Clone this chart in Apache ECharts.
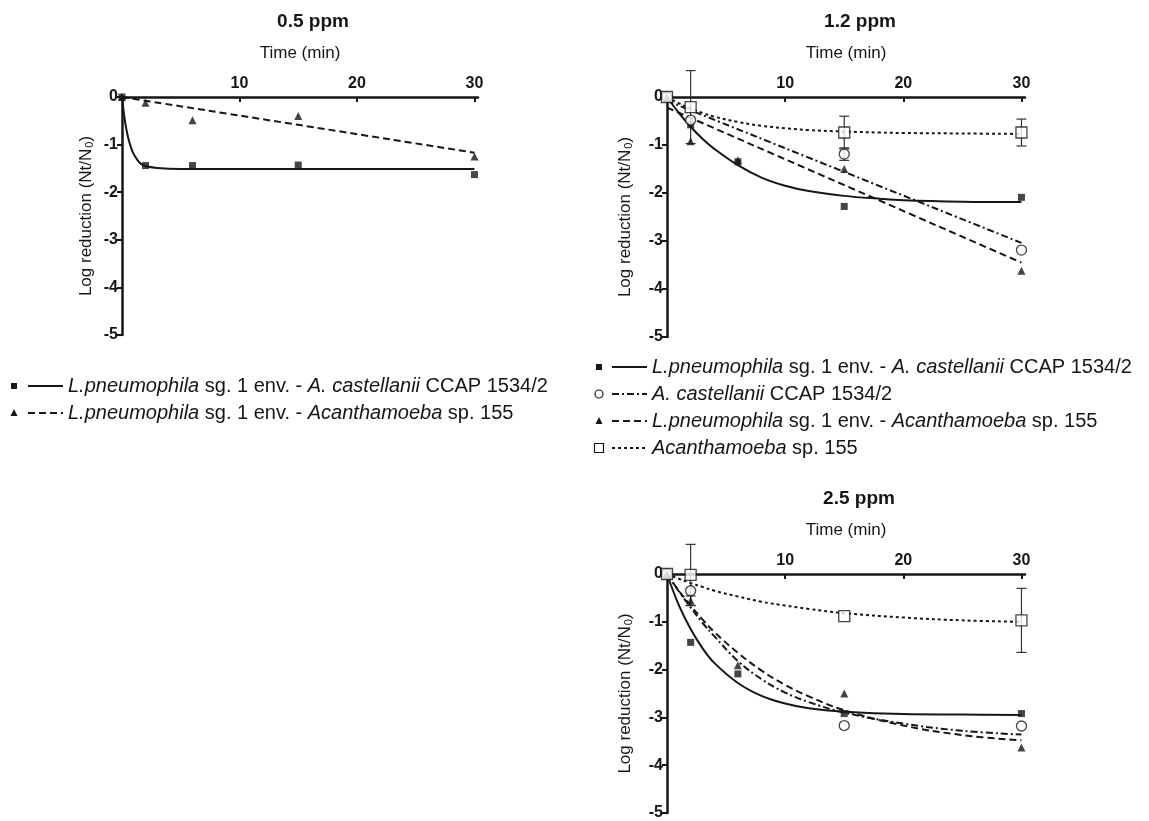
<!DOCTYPE html>
<html lang="en">

<head>
    <meta charset="UTF-8">
    <title>Log reduction - ppm</title>
    <style>
        html, body { margin: 0; padding: 0; background: #fff; }
        #main { width: 1149px; height: 821px; }
    </style>
</head>

<body>
    <div id="main"></div>
</body>

</html>
<script src="https://cdn.jsdelivr.net/npm/echarts@6/dist/echarts.min.js"></script>
<script>
    // sampling times (min)
    var times = [0, 2, 6, 15, 30];

    // 0.5 ppm
    var p1LpAc = [0, -1.44, -1.44, -1.43, -1.63];
    var p1LpAs = [0, -0.12, -0.49, -0.40, -1.25];
    var p1FitT = [0, 0.25, 0.5, 0.75, 1, 1.5, 2, 3, 5, 10, 20, 30];
    var p1FitLpAc = [0, -0.5, -0.83, -1.05, -1.2, -1.38, -1.45, -1.49, -1.51, -1.51, -1.51, -1.51];
    var p1LineT = [0, 30];
    var p1FitLpAs = [0, -1.17];

    // 1.2 ppm
    var p2LpAc = [0, -0.58, -1.35, -2.28, -2.09];
    var p2Ac = [0, -0.48, null, -1.19, -3.19];
    var p2LpAs = [0, -0.92, -1.32, -1.50, -3.62];
    var p2As = [0, -0.21, null, -0.74, -0.74];
    var p2AcErr = [null, null, null, 0.13, null];
    var p2AsErr = [null, 0.76, null, 0.34, 0.28];
    var p2FitT = [0, 1, 2, 3, 4, 6, 8, 10, 12, 15, 18, 20, 25, 30];
    var p2FitLpAc = [0, -0.33, -0.62, -0.87, -1.08, -1.42, -1.68, -1.85, -1.96, -2.06, -2.12, -2.15, -2.18, -2.19];
    var p2FitAs = [0, -0.13, -0.24, -0.33, -0.41, -0.52, -0.60, -0.65, -0.69, -0.72, -0.74, -0.75, -0.76, -0.77];
    var p2LineT = [0, 30];
    var p2FitAc = [-0.08, -3.04];
    var p2FitLpAs = [-0.22, -3.45];

    // 2.5 ppm
    var p3LpAc = [0, -1.43, -2.09, -2.92, -2.92];
    var p3Ac = [0, -0.35, null, -3.17, -3.18];
    var p3LpAs = [0, -0.56, -1.91, -2.50, -3.63];
    var p3As = [0, -0.02, null, -0.88, -0.97];
    var p3LpAsErr = [null, 0.1, null, null, null];
    var p3AsErr = [null, 0.64, null, null, 0.67];
    var p3FitT = [0, 1, 2, 3, 4, 6, 8, 10, 12, 15, 20, 25, 30];
    var p3FitLpAc = [0, -0.65, -1.15, -1.55, -1.86, -2.28, -2.55, -2.71, -2.81, -2.88, -2.93, -2.94, -2.95];
    var p3FitLpAs = [0, -0.35, -0.66, -0.95, -1.21, -1.65, -2.02, -2.32, -2.56, -2.85, -3.17, -3.37, -3.48];
    var p3FitAc = [0, -0.36, -0.70, -1.02, -1.30, -1.82, -2.20, -2.48, -2.68, -2.90, -3.13, -3.28, -3.36];
    var p3FitAs = [0, -0.10, -0.19, -0.27, -0.35, -0.47, -0.58, -0.66, -0.73, -0.82, -0.91, -0.97, -1.00];

    var titles = ['0.5 ppm', '1.2 ppm', '2.5 ppm'];
    var xTicks = [10, 20, 30];
    var legendLeft = [
        ['sq', 'solid', '{i|L.pneumophila} sg. 1 env. - {i|A. castellanii} CCAP 1534/2'],
        ['tri', 'dash', '{i|L.pneumophila} sg. 1 env. - {i|Acanthamoeba} sp. 155']
    ];
    var legendRight = [
        ['sq', 'solid', '{i|L.pneumophila} sg. 1 env. - {i|A. castellanii} CCAP 1534/2'],
        ['circ', 'dashdot', '{i|A. castellanii} CCAP 1534/2'],
        ['tri', 'dash', '{i|L.pneumophila} sg. 1 env. - {i|Acanthamoeba} sp. 155'],
        ['osq', 'dot', '{i|Acanthamoeba} sp. 155']
    ];

    var FONT = 'Liberation Sans, Arial, sans-serif';
    var INK = '#161616';
    var dashes = { solid: null, dash: [7, 4], dashdot: [7, 3, 2, 3], dot: [3, 3] };

    var mainChart = echarts.init(document.getElementById('main'));

    function pairs(xs, ys) {
        var out = [];
        for (var i = 0; i < xs.length; i++) {
            if (ys[i] !== null) out.push([xs[i], ys[i]]);
        }
        return out;
    }
    function errPairs(ys, es) {
        var out = [];
        for (var i = 0; i < times.length; i++) {
            if (es[i] !== null && ys[i] !== null) out.push([times[i], ys[i], es[i]]);
        }
        return out;
    }

    var grids = [
        { left: 122, top: 97, width: 356, height: 238 },
        { left: 667, top: 97, width: 358, height: 240 },
        { left: 667, top: 574, width: 358, height: 239 }
    ];
    var yNameGap = [27, 33, 33];

    var xAxes = [], yAxes = [];
    grids.forEach(function (g, i) {
        xAxes.push({
            gridIndex: i, type: 'value', position: 'top', min: 0, max: 30.3, interval: 10,
            name: 'Time (min)', nameLocation: 'middle', nameGap: 35,
            nameTextStyle: { fontSize: 17, color: INK, fontFamily: FONT },
            axisLine: { lineStyle: { color: INK, width: 2.5 } },
            axisTick: { inside: true, length: 5, customValues: xTicks, lineStyle: { color: INK, width: 2 } },
            axisLabel: { customValues: xTicks, fontWeight: 'bold', fontSize: 16, color: INK, margin: 5, fontFamily: FONT },
            splitLine: { show: false }
        });
        yAxes.push({
            gridIndex: i, type: 'value', min: -5, max: 0, interval: 1,
            name: 'Log reduction (Nt/N{sub|0})', nameLocation: 'middle', nameGap: yNameGap[i],
            nameTextStyle: {
                fontSize: 17, color: INK, fontFamily: FONT,
                rich: { sub: { fontSize: 11, padding: [7, 0, 0, 1], color: INK, fontFamily: FONT } }
            },
            axisLine: { lineStyle: { color: INK, width: 2.5 } },
            axisTick: { length: 5, lineStyle: { color: INK, width: 2 } },
            axisLabel: { fontWeight: 'bold', fontSize: 16, color: INK, margin: 4, fontFamily: FONT },
            splitLine: { show: false }
        });
    });

    // fitted curves
    function fit(idx, xs, ys, dash) {
        return {
            type: 'line', xAxisIndex: idx, yAxisIndex: idx, data: pairs(xs, ys),
            showSymbol: false, smooth: 0.4, silent: true, z: 2,
            lineStyle: { color: INK, width: 2, type: dash || 'solid' }
        };
    }
    // measured points
    var symbols = {
        sq: { symbol: 'rect', symbolSize: 7, itemStyle: { color: INK } },
        tri: { symbol: 'triangle', symbolSize: 8, itemStyle: { color: INK } },
        circ: { symbol: 'circle', symbolSize: 10, itemStyle: { color: '#fff', borderColor: INK, borderWidth: 1.3 } },
        osq: { symbol: 'rect', symbolSize: 11, itemStyle: { color: '#fff', borderColor: INK, borderWidth: 1.3 } }
    };
    function pts(idx, ys, kind) {
        var s = symbols[kind];
        return {
            type: 'scatter', xAxisIndex: idx, yAxisIndex: idx, data: pairs(times, ys),
            symbol: s.symbol, symbolSize: s.symbolSize, itemStyle: s.itemStyle, z: 4, clip: false
        };
    }
    // SD error bars
    function errBars(idx, ys, es) {
        return {
            type: 'custom', xAxisIndex: idx, yAxisIndex: idx, data: errPairs(ys, es), z: 3, clip: false,
            renderItem: function (params, api) {
                var x = api.value(0), y = api.value(1), e = api.value(2);
                var hi = api.coord([x, y + e]), lo = api.coord([x, y - e]);
                var w = 5, st = { stroke: '#333', lineWidth: 1.2 };
                return {
                    type: 'group', children: [
                        { type: 'line', shape: { x1: hi[0], y1: hi[1], x2: lo[0], y2: lo[1] }, style: st },
                        { type: 'line', shape: { x1: hi[0] - w, y1: hi[1], x2: hi[0] + w, y2: hi[1] }, style: st },
                        { type: 'line', shape: { x1: lo[0] - w, y1: lo[1], x2: lo[0] + w, y2: lo[1] }, style: st }
                    ]
                };
            }
        };
    }

    var series = [
        fit(0, p1FitT, p1FitLpAc), fit(0, p1LineT, p1FitLpAs, dashes.dash),
        pts(0, p1LpAc, 'sq'), pts(0, p1LpAs, 'tri'),

        fit(1, p2FitT, p2FitLpAc), fit(1, p2LineT, p2FitAc, dashes.dashdot),
        fit(1, p2LineT, p2FitLpAs, dashes.dash), fit(1, p2FitT, p2FitAs, dashes.dot),
        errBars(1, p2Ac, p2AcErr), errBars(1, p2As, p2AsErr),
        pts(1, p2LpAc, 'sq'), pts(1, p2Ac, 'circ'), pts(1, p2LpAs, 'tri'), pts(1, p2As, 'osq'),

        fit(2, p3FitT, p3FitLpAc), fit(2, p3FitT, p3FitAc, dashes.dashdot),
        fit(2, p3FitT, p3FitLpAs, dashes.dash), fit(2, p3FitT, p3FitAs, dashes.dot),
        errBars(2, p3LpAs, p3LpAsErr), errBars(2, p3As, p3AsErr),
        pts(2, p3LpAc, 'sq'), pts(2, p3Ac, 'circ'), pts(2, p3LpAs, 'tri'), pts(2, p3As, 'osq')
    ];

    // titles + custom legends (marker, line sample, text)
    var graphic = [];
    var titlePos = [[313, 22], [860, 22], [859, 499]];
    titles.forEach(function (t, i) {
        graphic.push({
            type: 'text', x: titlePos[i][0], y: titlePos[i][1],
            style: { text: t, fontSize: 19, fontWeight: 'bold', fill: INK, fontFamily: FONT, align: 'center', verticalAlign: 'middle' }
        });
    });
    function legendRows(rows, sx, x1, x2, tx, y0, dy) {
        rows.forEach(function (r, k) {
            var y = y0 + k * dy, el;
            if (r[0] === 'sq') el = { type: 'rect', shape: { x: sx - 3, y: y - 3, width: 6, height: 6 }, style: { fill: INK } };
            if (r[0] === 'osq') el = { type: 'rect', shape: { x: sx - 4.5, y: y - 4.5, width: 9, height: 9 }, style: { fill: '#fff', stroke: INK, lineWidth: 1.2 } };
            if (r[0] === 'circ') el = { type: 'circle', shape: { cx: sx, cy: y, r: 4 }, style: { fill: '#fff', stroke: INK, lineWidth: 1.2 } };
            if (r[0] === 'tri') el = { type: 'polygon', shape: { points: [[sx, y - 4], [sx + 3.5, y + 3], [sx - 3.5, y + 3]] }, style: { fill: INK } };
            graphic.push(el);
            graphic.push({ type: 'line', shape: { x1: x1, y1: y, x2: x2, y2: y }, style: { stroke: INK, lineWidth: 2, lineDash: dashes[r[1]] } });
            graphic.push({
                type: 'text', x: tx, y: y,
                style: {
                    text: r[2], fontSize: 20, fill: INK, fontFamily: FONT, verticalAlign: 'middle',
                    rich: { i: { fontStyle: 'italic', fontSize: 20, fill: INK, fontFamily: FONT } }
                }
            });
        });
    }
    legendRows(legendLeft, 14, 28, 63, 68, 386, 27);
    legendRows(legendRight, 599, 612, 647, 652, 367, 27);

    var option = {
        animation: false,
        backgroundColor: '#fff',
        textStyle: { fontFamily: FONT },
        grid: grids,
        xAxis: xAxes,
        yAxis: yAxes,
        series: series,
        graphic: graphic
    };
    mainChart.setOption(option);
</script>
